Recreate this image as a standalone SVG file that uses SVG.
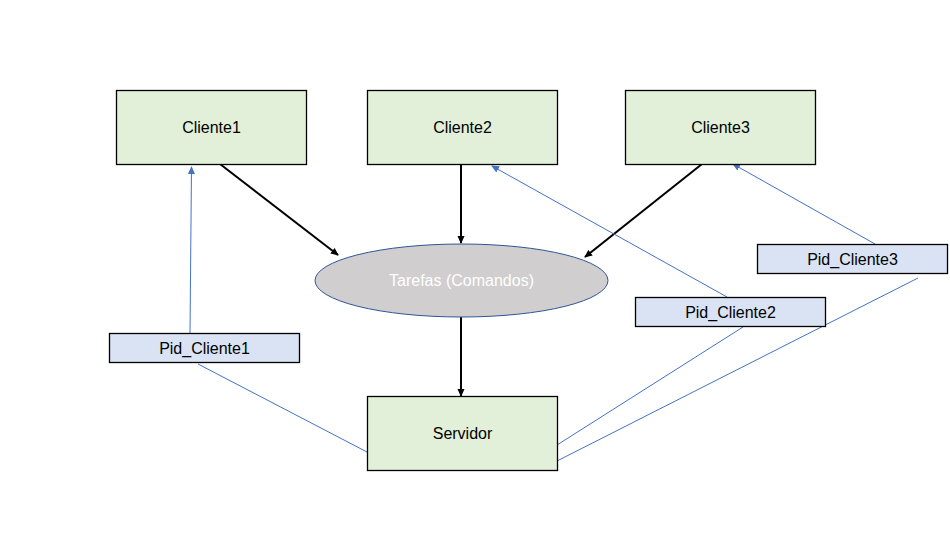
<svg xmlns="http://www.w3.org/2000/svg" width="950" height="540" viewBox="0 0 950 540">
<style>
.g{fill:#E2F0D9;stroke:#000;stroke-width:1.3}
.b{fill:#DAE3F3;stroke:#000;stroke-width:1.3}
.t{font-family:"Liberation Sans",Arial,sans-serif;font-size:16px;fill:#000;text-anchor:middle;dominant-baseline:central}
.k{stroke:#000;stroke-width:2;fill:none}
.u{stroke:#4472C4;stroke-width:1;fill:none}
</style>
<defs>
<marker id="ak" markerWidth="8" markerHeight="8" refX="7" refY="4" orient="auto" markerUnits="userSpaceOnUse"><path d="M0,0.5 L8,4 L0,7.5 Z" fill="#000"/></marker>
<marker id="ab" markerWidth="8" markerHeight="8" refX="7" refY="4" orient="auto" markerUnits="userSpaceOnUse"><path d="M0,0.5 L8,4 L0,7.5 Z" fill="#4472C4"/></marker>
</defs>
<rect width="950" height="540" fill="#fff"/>
<g id="connectors">
<line class="k" x1="220" y1="164" x2="338" y2="255" marker-end="url(#ak)"/>
<line class="k" x1="461" y1="164" x2="461" y2="243" marker-end="url(#ak)"/>
<line class="k" x1="702" y1="164" x2="585" y2="257" marker-end="url(#ak)"/>
<line class="k" x1="461" y1="317" x2="461" y2="396" marker-end="url(#ak)"/>
<line class="u" x1="190" y1="333" x2="191.5" y2="167" marker-end="url(#ab)"/>
<line class="u" x1="727" y1="297" x2="492" y2="166" marker-end="url(#ab)"/>
<line class="u" x1="875" y1="244" x2="733" y2="164" marker-end="url(#ab)"/>
<line class="u" x1="198" y1="364" x2="367" y2="452"/>
<line class="u" x1="557" y1="445" x2="743" y2="327"/>
<line class="u" x1="557" y1="461" x2="918" y2="278"/>
</g>
<g id="cliente1"><rect class="g" x="116.5" y="90.5" width="190" height="74"/><text class="t" x="211.5" y="127.5">Cliente1</text></g>
<g id="cliente2"><rect class="g" x="367.5" y="90.5" width="190" height="74"/><text class="t" x="462.5" y="127.5">Cliente2</text></g>
<g id="cliente3"><rect class="g" x="625.5" y="90.5" width="190" height="74"/><text class="t" x="720.5" y="127.5">Cliente3</text></g>
<g id="tarefas"><ellipse cx="461.5" cy="280.5" rx="146.5" ry="36.5" fill="#D0CECE" stroke="#2F5597" stroke-width="1"/><text class="t" x="461.5" y="280.5" style="fill:#fff">Tarefas (Comandos)</text></g>
<g id="servidor"><rect class="g" x="367.5" y="396.5" width="190" height="74"/><text class="t" x="462.5" y="433.5">Servidor</text></g>
<g id="pid1"><rect class="b" x="109.5" y="333.5" width="190" height="29"/><text class="t" x="204.5" y="348">Pid_Cliente1</text></g>
<g id="pid2"><rect class="b" x="635.5" y="297.5" width="190" height="29"/><text class="t" x="730.5" y="312">Pid_Cliente2</text></g>
<g id="pid3"><rect class="b" x="757.5" y="244.5" width="190" height="29"/><text class="t" x="852.5" y="259">Pid_Cliente3</text></g>
</svg>
